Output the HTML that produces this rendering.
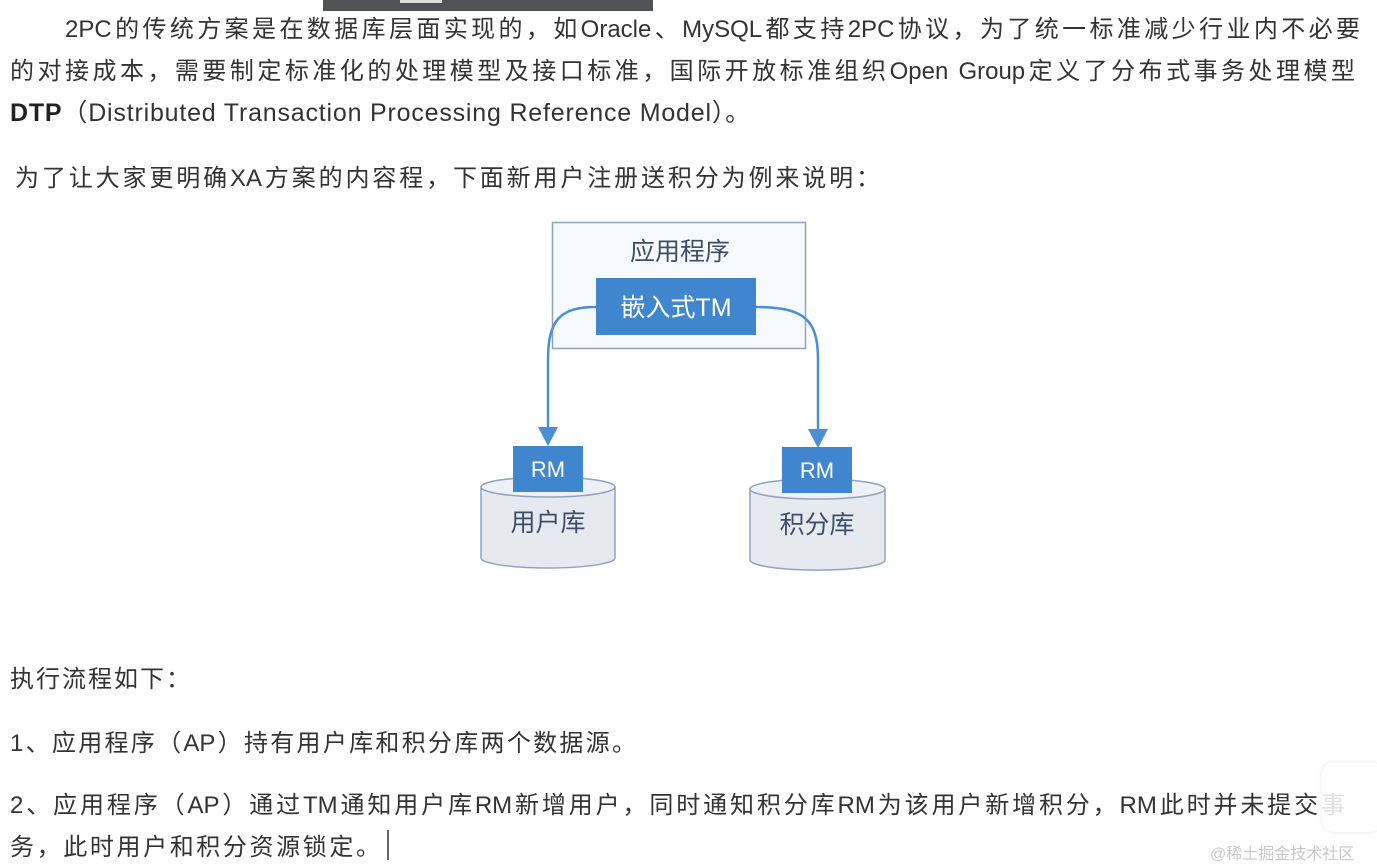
<!DOCTYPE html>
<html><head><meta charset="utf-8"><style>
html,body{margin:0;padding:0;background:#fff;width:1377px;height:867px;overflow:hidden;position:relative}
.t{position:absolute;font-family:"Liberation Sans","Noto Sans CJK SC",sans-serif;font-size:24px;color:#333;white-space:nowrap;text-align:justify;text-align-last:justify;line-height:30px;height:30px;overflow:visible}
b{color:#222}
</style></head><body>
<div style="position:absolute;left:323px;top:0;width:330px;height:11px;background:#505255"></div>
<div style="position:absolute;left:400px;top:0;width:42px;height:3px;background:#ddd"></div>

<div class="t" style="left:65px;top:15px;width:1295px">2PC的传统方案是在数据库层面实现的，如Oracle、MySQL都支持2PC协议，为了统一标准减少行业内不必要</div>
<div class="t" style="left:10px;top:57px;width:1345px">的对接成本，需要制定标准化的处理模型及接口标准，国际开放标准组织Open Group定义了分布式事务处理模型</div>
<div class="t" style="left:10px;top:98px;text-align:left;text-align-last:left;font-size:25px;letter-spacing:0.8px"><b>DTP</b>（Distributed Transaction Processing Reference Model）。</div>
<div class="t" style="left:15px;top:164px;width:865px">为了让大家更明确XA方案的内容程，下面新用户注册送积分为例来说明：</div>

<svg style="position:absolute;left:0;top:0" width="1377" height="867">
<rect x="552.5" y="222.5" width="253" height="126" fill="#f6f9fd" stroke="#8fa3bd" stroke-width="1.5"/>
<text x="680" y="260" font-family="Liberation Sans,Noto Sans CJK SC,sans-serif" font-size="25" fill="#3d4f66" text-anchor="middle">应用程序</text>
<rect x="596" y="278" width="160" height="57" fill="#3f86cf"/>
<text x="676" y="316" font-family="Liberation Sans,Noto Sans CJK SC,sans-serif" font-size="25" fill="#fff" text-anchor="middle">嵌入式TM</text>
<path d="M596 307 C560 307 548 320 548 360 L548 430" fill="none" stroke="#4a8fd6" stroke-width="2.5"/>
<polygon points="538,427 558,427 548,446" fill="#4a8fd6"/>
<path d="M756 307 C805 307 818 320 818 360 L818 432" fill="none" stroke="#4a8fd6" stroke-width="2.5"/>
<polygon points="808,429 828,429 818,448" fill="#4a8fd6"/>
<path d="M481 487 L481 558 A67 10 0 0 0 615 558 L615 487" fill="#e6eaf0" stroke="#8fa3bd" stroke-width="1.5"/>
<ellipse cx="548" cy="487" rx="67" ry="10" fill="#edf0f4" stroke="#8fa3bd" stroke-width="1.5"/>
<rect x="513" y="446" width="70" height="46" fill="#3f86cf"/>
<text x="548" y="477" font-family="Liberation Sans,sans-serif" font-size="22" fill="#fff" text-anchor="middle">RM</text>
<text x="548" y="531" font-family="Liberation Sans,Noto Sans CJK SC,sans-serif" font-size="25" fill="#3d4f66" text-anchor="middle">用户库</text>
<path d="M750 489 L750 560 A67 10 0 0 0 885 560 L885 489" fill="#e6eaf0" stroke="#8fa3bd" stroke-width="1.5"/>
<ellipse cx="817.5" cy="489" rx="67.5" ry="10" fill="#edf0f4" stroke="#8fa3bd" stroke-width="1.5"/>
<rect x="782" y="447" width="70" height="46" fill="#3f86cf"/>
<text x="817" y="478" font-family="Liberation Sans,sans-serif" font-size="22" fill="#fff" text-anchor="middle">RM</text>
<text x="817" y="533" font-family="Liberation Sans,Noto Sans CJK SC,sans-serif" font-size="25" fill="#3d4f66" text-anchor="middle">积分库</text>
<line x1="388" y1="830" x2="388" y2="860" stroke="#333" stroke-width="1.5"/>
</svg>

<div class="t" style="left:10px;top:665px;width:180px">执行流程如下：</div>
<div class="t" style="left:10px;top:729px;width:626px">1、应用程序（AP）持有用户库和积分库两个数据源。</div>
<div class="t" style="left:10px;top:791px;width:1335px">2、应用程序（AP）通过TM通知用户库RM新增用户，同时通知积分库RM为该用户新增积分，RM此时并未提交事</div>
<div class="t" style="left:10px;top:833px;width:370px">务，此时用户和积分资源锁定。</div>

<div style="position:absolute;left:1322px;top:762px;width:60px;height:70px;background:rgba(255,255,255,0.85);border-radius:12px;box-shadow:0 0 4px rgba(0,0,0,0.1)"></div>
<div style="position:absolute;left:1210px;top:840px;font-family:'Liberation Sans','Noto Sans CJK SC',sans-serif;font-size:16px;color:#c8c8c8">@稀土掘金技术社区</div>
</body></html>
